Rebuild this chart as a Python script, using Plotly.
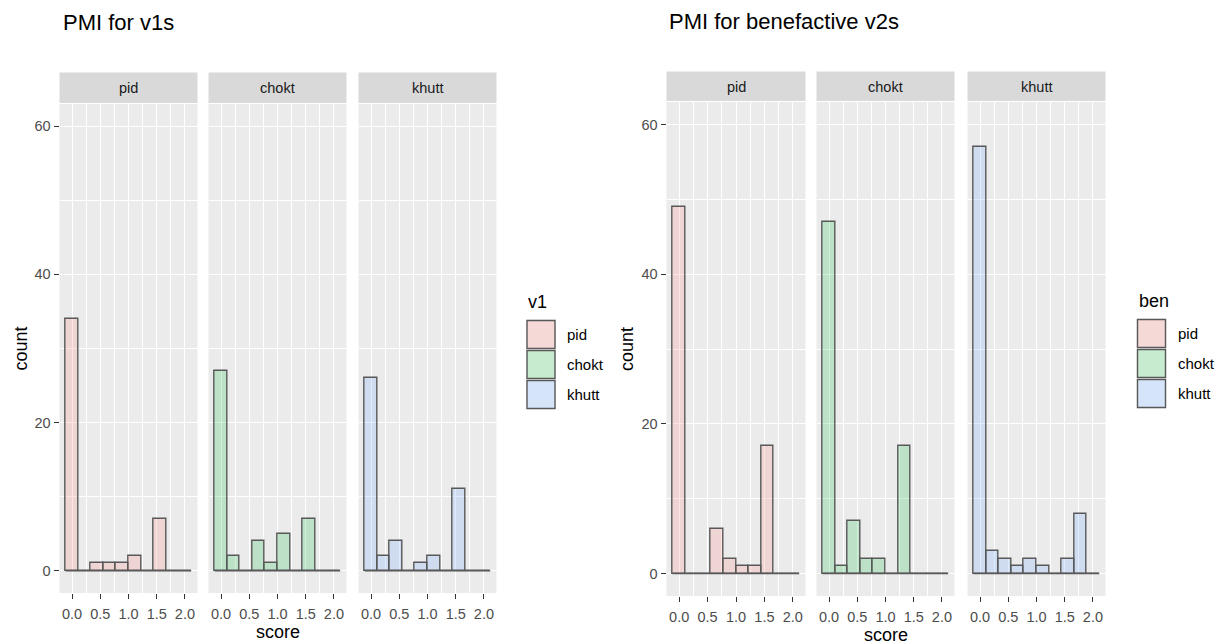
import plotly.graph_objects as go

# ---------------- data ----------------
groups = ["pid", "chokt", "khutt"]
bin_width = 2.0 / 9
bin_centers = [i * bin_width for i in range(10)]

v1_pid = [34, 0, 1, 1, 1, 2, 0, 7, 0, 0]
v1_chokt = [27, 2, 0, 4, 1, 5, 0, 7, 0, 0]
v1_khutt = [26, 2, 4, 0, 1, 2, 0, 11, 0, 0]

ben_pid = [49, 0, 0, 6, 2, 1, 1, 17, 0, 0]
ben_chokt = [47, 1, 7, 2, 2, 0, 17, 0, 0, 0]
ben_khutt = [57, 3, 2, 1, 2, 1, 0, 2, 8, 0]

x_ticks = [0.0, 0.5, 1.0, 1.5, 2.0]
y_ticks = [0, 20, 40, 60]

fills = ["rgba(248,118,109,0.2)", "rgba(0,186,56,0.2)", "rgba(97,156,255,0.2)"]
legend_fills = ["#F5D9D7", "#C6EBCF", "#D6E4FA"]
outline = "#585858"

W, H = 1220, 644
FONT = "Liberation Sans, Arial, sans-serif"

fig = go.Figure()
layout = {}
shapes = []
annotations = []


def px_x(a):
    return a / W


def px_y(a):
    return 1 - a / H


charts = [
    dict(series=[v1_pid, v1_chokt, v1_khutt],
         panels=[(59.5, 197.5), (208.5, 346.5), (358.5, 496.5)],
         top=104, bottom=593, strip_top=72.5,
         title="PMI for v1s", title_x=61, title_y=23,
         count_x=20, score_y=632,
         leg_title="v1", leg_x=526, leg_y=302),
    dict(series=[ben_pid, ben_chokt, ben_khutt],
         panels=[(666.5, 805.5), (816.5, 954.5), (967.5, 1105.5)],
         top=102, bottom=596, strip_top=71.5,
         title="PMI for benefactive v2s", title_x=667, title_y=21,
         count_x=627, score_y=635,
         leg_title="ben", leg_x=1136.5, leg_y=301),
]

edge_lo = bin_centers[0] - bin_width / 2
edge_hi = bin_centers[-1] + bin_width / 2
span = edge_hi - edge_lo
xr = [edge_lo - 0.05 * span, edge_hi + 0.05 * span]
yr = [-3, 63]

tickfont = dict(family=FONT, size=14.5, color="#4D4D4D")

k = 0
for c in charts:
    for j, (g, vals) in enumerate(zip(groups, c["series"])):
        k += 1
        xa = "x" if k == 1 else f"x{k}"
        ya = "y" if k == 1 else f"y{k}"
        x0, x1 = c["panels"][j]
        # bars
        fig.add_trace(go.Bar(
            x=bin_centers, y=vals, width=bin_width,
            marker=dict(color=fills[j], line=dict(color=outline, width=1.4)),
            xaxis=xa, yaxis=ya, showlegend=False, hoverinfo="x+y"))
        # baseline (zero-count bins are drawn flat in the original)
        fig.add_trace(go.Scatter(
            x=[edge_lo, edge_hi], y=[0, 0], mode="lines",
            line=dict(color=outline, width=1.4),
            xaxis=xa, yaxis=ya, showlegend=False, hoverinfo="skip"))
        first = j == 0
        layout[f"xaxis{'' if k == 1 else k}"] = dict(
            domain=[px_x(x0), px_x(x1)], range=xr, anchor=ya,
            tickvals=x_ticks, tickformat=".1f",
            showgrid=True, gridcolor="white", gridwidth=1.2,
            minor=dict(dtick=0.25, tick0=0, showgrid=True, gridcolor="white", gridwidth=0.6),
            ticks="outside", ticklen=5, tickcolor="#333333", tickwidth=1.2,
            ticklabelstandoff=3,
            tickfont=tickfont,
            zeroline=False, showline=False, fixedrange=True)
        layout[f"yaxis{'' if k == 1 else k}"] = dict(
            domain=[px_y(c["bottom"]), px_y(c["top"])], range=yr, anchor=xa,
            tickvals=y_ticks, showticklabels=first,
            showgrid=True, gridcolor="white", gridwidth=1.2,
            minor=dict(dtick=10, tick0=0, showgrid=True, gridcolor="white", gridwidth=0.6),
            ticks="outside" if first else "", ticklen=5, tickcolor="#333333", tickwidth=1.2,
            tickfont=tickfont,
            zeroline=False, showline=False, fixedrange=True)
        # panel background
        shapes.append(dict(type="rect", xref="paper", yref="paper", layer="below",
                           x0=px_x(x0), x1=px_x(x1), y0=px_y(c["bottom"]), y1=px_y(c["top"]),
                           fillcolor="#EBEBEB", line=dict(width=0)))
        # strip
        shapes.append(dict(type="rect", xref="paper", yref="paper",
                           x0=px_x(x0), x1=px_x(x1), y0=px_y(c["top"] - 1), y1=px_y(c["strip_top"]),
                           fillcolor="#D9D9D9", line=dict(width=0)))
        annotations.append(dict(text=g, xref="paper", yref="paper",
                                x=px_x((x0 + x1) / 2), y=px_y((c["strip_top"] + c["top"]) / 2),
                                xanchor="center", yanchor="middle", showarrow=False,
                                font=dict(family=FONT, size=14.5, color="#1A1A1A")))
    left = c["panels"][0][0]
    right = c["panels"][-1][1]
    # title
    annotations.append(dict(text=c["title"], xref="paper", yref="paper",
                            x=px_x(c["title_x"]), y=px_y(c["title_y"]),
                            xanchor="left", yanchor="middle", showarrow=False,
                            font=dict(family=FONT, size=22, color="black")))
    # axis titles
    annotations.append(dict(text="count", xref="paper", yref="paper",
                            x=px_x(c["count_x"]), y=px_y((c["top"] + c["bottom"]) / 2),
                            xanchor="center", yanchor="middle", textangle=-90, showarrow=False,
                            font=dict(family=FONT, size=18, color="black")))
    annotations.append(dict(text="score", xref="paper", yref="paper",
                            x=px_x((left + right) / 2), y=px_y(c["score_y"]),
                            xanchor="center", yanchor="middle", showarrow=False,
                            font=dict(family=FONT, size=18, color="black")))
    # legend
    annotations.append(dict(text=c["leg_title"], xref="paper", yref="paper",
                            x=px_x(c["leg_x"]), y=px_y(c["leg_y"]),
                            xanchor="left", yanchor="middle", showarrow=False,
                            font=dict(family=FONT, size=18, color="black")))
    ky = c["leg_y"] + 17.5
    for j, g in enumerate(groups):
        t = ky + j * 30
        shapes.append(dict(type="rect", xref="paper", yref="paper",
                           x0=px_x(c["leg_x"]), x1=px_x(c["leg_x"] + 30),
                           y0=px_y(t + 30), y1=px_y(t),
                           fillcolor="#F2F2F2", line=dict(width=0)))
        shapes.append(dict(type="rect", xref="paper", yref="paper",
                           x0=px_x(c["leg_x"] + 1), x1=px_x(c["leg_x"] + 29),
                           y0=px_y(t + 29), y1=px_y(t + 1),
                           fillcolor=legend_fills[j], line=dict(color=outline, width=1.4)))
        annotations.append(dict(text=g, xref="paper", yref="paper",
                                x=px_x(c["leg_x"] + 39), y=px_y(t + 15),
                                xanchor="left", yanchor="middle", showarrow=False,
                                font=dict(family=FONT, size=15, color="black")))

fig.update_layout(
    width=W, height=H, margin=dict(l=0, r=0, t=0, b=0),
    paper_bgcolor="white", plot_bgcolor="rgba(0,0,0,0)",
    showlegend=False, bargap=0, shapes=shapes, annotations=annotations,
    font=dict(family=FONT),
    **layout)

fig.write_html("out.html")
